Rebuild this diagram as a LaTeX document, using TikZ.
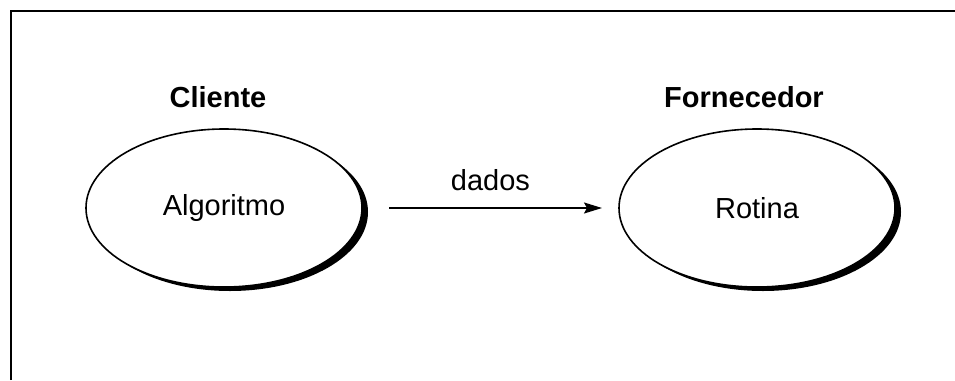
\documentclass[tikz,border=0pt]{standalone}
\usepackage{fontspec}
\setmainfont{Liberation Sans}
\usetikzlibrary{arrows.meta,positioning,shapes.geometric,shadows}

\begin{document}
\begin{tikzpicture}[x=1pt,y=1pt,
  papel/.style={ellipse,draw,line width=1.6pt,fill=white,
    minimum width=276pt,minimum height=158pt,inner sep=0pt,outer sep=0pt,
    font=\fontsize{29}{34}\selectfont,
    general shadow={fill=black,shadow xshift=6pt,shadow yshift=-4pt}},
  titulo/.style={font=\fontsize{29}{34}\selectfont\bfseries,anchor=base,inner sep=0pt}]
  \useasboundingbox (0,0) rectangle (955,-380);
  % moldura aberta (so topo e lado esquerdo)
  \draw[line width=2.5pt] (11,-380)--(11,-11)--(955,-11);
  \node[papel] (alg) at (224,-208) {Algoritmo};
  \node[papel] (rot) at (757,-208) {Rotina};
  \node[titulo] (cli) at (218,-107) {Cliente};
  \node[titulo] (forn) at (744,-107) {Fornecedor};
  \draw[line width=1.6pt,-{Stealth[length=18pt,width=11pt,inset=3pt]},
    shorten <=27pt,shorten >=17pt]
    (alg) -- node[above=16pt,inner sep=0pt,font=\fontsize{29}{34}\selectfont] (dados) {dados} (rot);
\end{tikzpicture}
\end{document}
